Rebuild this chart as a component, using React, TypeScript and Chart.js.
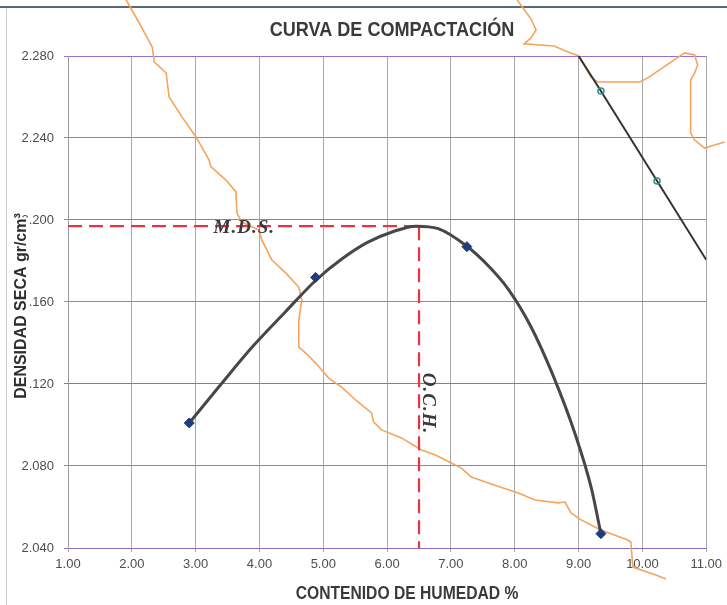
import React, { useEffect, useRef } from 'react';
import { Chart, registerables } from 'chart.js';

Chart.register(...registerables);

// ---- data ----
const xTicks = [1, 2, 3, 4, 5, 6, 7, 8, 9, 10, 11];
const yTicks = [2.04, 2.08, 2.12, 2.16, 2.2, 2.24, 2.28];

const muestraHumedad = [2.9, 4.88, 7.25, 9.35];
const muestraDensidad = [2.101, 2.172, 2.187, 2.047];

const curvaHumedad = [2.9, 3.4, 3.9, 4.4, 4.88, 5.3, 5.7, 6.1, 6.45, 6.8, 7.25, 7.6, 7.9, 8.25, 8.6, 8.95, 9.2, 9.35];
const curvaDensidad = [2.101, 2.12, 2.1385, 2.155, 2.1705, 2.1812, 2.1892, 2.1944, 2.197, 2.1958, 2.1872, 2.1772, 2.1662, 2.1482, 2.1242, 2.0952, 2.0692, 2.047];

const saturacionHumedad = [9.0, 9.35, 10.23, 11.0];
const saturacionDensidad = [2.28, 2.2629, 2.219, 2.1806];

const och = 6.5;
const mds = 2.197;

const contorno1X = [1.913, 2.116, 2.319, 2.35, 2.538, 2.584, 2.788, 3.006, 3.209, 3.241, 3.475, 3.631, 3.647, 3.725, 3.991, 4.038, 4.194, 4.413, 4.616, 4.663, 4.616, 4.616, 4.725, 4.881, 5.084, 5.288, 5.506, 5.756, 5.788, 5.913, 6.225, 6.538, 6.756, 7.006, 7.163, 7.319, 7.584, 8.053, 8.319, 8.678, 8.788, 8.881, 9.038, 9.35, 9.772, 9.819, 9.85, 10.21, 10.37];
const contorno1Y = [2.3073, 2.2961, 2.2844, 2.2771, 2.2717, 2.26, 2.2502, 2.2405, 2.2293, 2.2259, 2.2195, 2.2137, 2.2034, 2.199, 2.1951, 2.1902, 2.1805, 2.1741, 2.1673, 2.161, 2.1512, 2.138, 2.1351, 2.1302, 2.1229, 2.1185, 2.1122, 2.1059, 2.1015, 2.0976, 2.0937, 2.0878, 2.0854, 2.0815, 2.079, 2.0746, 2.0717, 2.0668, 2.0634, 2.062, 2.0624, 2.0571, 2.0537, 2.0488, 2.0439, 2.0429, 2.0307, 2.0268, 2.0249];

const contorno2X = [8.038, 8.256, 8.334, 8.256, 8.147, 8.616, 8.834, 9.006, 9.194, 9.303, 9.959, 10.084, 10.663, 10.819, 10.866, 10.819, 10.756, 10.756, 10.819, 10.975, 11.131, 11.288];
const contorno2Y = [2.3073, 2.298, 2.2927, 2.2888, 2.2859, 2.2849, 2.282, 2.28, 2.2698, 2.2673, 2.2673, 2.2693, 2.2815, 2.2805, 2.2756, 2.2717, 2.2683, 2.2424, 2.239, 2.2351, 2.2366, 2.238];

const titulo = 'CURVA DE COMPACTACIÓN';
const tituloX = 'CONTENIDO DE HUMEDAD %';
const tituloY = 'DENSIDAD SECA gr/cm³';
const etiquetaMDS = 'M.D.S.';
const etiquetaOCH = 'O.C.H.';

// ---- styles ----
const SANS = "'Liberation Sans', Arial, sans-serif";
const SERIF = "'Liberation Serif', 'DejaVu Serif', serif";
const yGridColors = ['#8c6cc8', '#b06ec0', '#7a74d2', '#4fae9a', '#a06ed0', '#5e98cc', '#9a70d2'];

const pts = (xs: number[], ys: number[]) => xs.map((x, i) => ({ x, y: ys[i] }));

function narrowText(ctx: any, text: string, x: number, y: number, sx: number, rot = 0, halo = false) {
  ctx.save();
  ctx.translate(x, y);
  if (rot) ctx.rotate(rot);
  ctx.scale(sx, 1);
  if (halo) {
    ctx.save();
    ctx.strokeStyle = '#ffffff';
    ctx.lineWidth = 4;
    ctx.strokeText(text, 0, 0);
    ctx.restore();
  }
  ctx.fillText(text, 0, 0);
  ctx.restore();
}

const decor = {
  id: 'decor',
  beforeDraw(chart: any) {
    const ctx = chart.ctx;
    ctx.save();
    ctx.fillStyle = '#ffffff';
    ctx.fillRect(0, 0, chart.width, chart.height);
    ctx.strokeStyle = '#56687e';
    ctx.lineWidth = 2;
    ctx.beginPath();
    ctx.moveTo(0, 7);
    ctx.lineTo(chart.width, 7);
    ctx.stroke();
    ctx.strokeStyle = '#cfcfcf';
    ctx.lineWidth = 1;
    ctx.beginPath();
    ctx.moveTo(6.5, 8);
    ctx.lineTo(6.5, chart.height);
    ctx.stroke();
    ctx.restore();
  },
  afterDraw(chart: any) {
    const { ctx, scales } = chart;
    const sx = scales.x;
    const sy = scales.y;
    ctx.save();
    ctx.textAlign = 'center';
    ctx.textBaseline = 'middle';
    // main title
    ctx.fillStyle = '#3a3a3a';
    ctx.font = `bold 21px ${SANS}`;
    narrowText(ctx, titulo, 392, 30, 0.86);
    // x title
    ctx.font = `bold 18px ${SANS}`;
    narrowText(ctx, tituloX, 407, 594, 0.87);
    // y title
    ctx.font = `bold 17px ${SANS}`;
    ctx.fillStyle = '#2e2e2e';
    narrowText(ctx, tituloY, 21, 306, 0.94, -Math.PI / 2, true);
    // M.D.S.
    ctx.fillStyle = '#3a3a3a';
    ctx.font = `italic bold 19px ${SERIF}`;
    ctx.textAlign = 'left';
    (ctx as any).letterSpacing = '1px';
    ctx.fillText(etiquetaMDS, sx.getPixelForValue(3.28), sy.getPixelForValue(mds) + 2);
    // O.C.H.
    ctx.textAlign = 'center';
    narrowText(ctx, etiquetaOCH, sx.getPixelForValue(och) + 9, sy.getPixelForValue(2.1105), 1, Math.PI / 2);
    (ctx as any).letterSpacing = '0px';
    ctx.restore();
  },
};

export default function App() {
  const ref = useRef<HTMLCanvasElement | null>(null);
  useEffect(() => {
    if (!ref.current) return;
    const chart = new Chart(ref.current, {
      type: 'scatter',
      data: {
        datasets: [
          {
            label: 'Muestras',
            data: pts(muestraHumedad, muestraDensidad),
            showLine: false,
            pointStyle: 'rectRot',
            pointRadius: 5,
            backgroundColor: '#1f3d7a',
            borderColor: '#1f3d7a',
            order: 1,
          },
          {
            label: 'Curva',
            data: pts(curvaHumedad, curvaDensidad),
            showLine: true,
            pointRadius: 0,
            borderColor: '#474747',
            borderWidth: 3,
            tension: 0.4,
            cubicInterpolationMode: 'monotone',
            order: 2,
          },
          {
            label: 'Saturación',
            data: pts(saturacionHumedad, saturacionDensidad),
            showLine: true,
            pointRadius: [0, 3, 3, 0],
            pointBackgroundColor: 'rgba(255,255,255,0)',
            pointBorderColor: '#2d8f8f',
            pointBorderWidth: 1.5,
            borderColor: '#333333',
            borderWidth: 2,
            tension: 0,
            order: 3,
          },
          {
            label: 'MDS',
            data: [{ x: 1, y: mds }, { x: och, y: mds }],
            showLine: true,
            pointRadius: 0,
            borderColor: '#ea3340',
            borderWidth: 2.2,
            borderDash: [14, 7],
            order: 4,
          },
          {
            label: 'OCH',
            data: [{ x: och, y: mds }, { x: och, y: 2.04 }],
            showLine: true,
            pointRadius: 0,
            borderColor: '#ea3340',
            borderWidth: 2.2,
            borderDash: [14, 7],
            order: 4,
          },
          {
            label: 'c1',
            data: pts(contorno1X, contorno1Y),
            showLine: true,
            pointRadius: 0,
            borderColor: '#f5a45c',
            borderWidth: 1.6,
            tension: 0,
            clip: false,
            order: 10,
          },
          {
            label: 'c2',
            data: pts(contorno2X, contorno2Y),
            showLine: true,
            pointRadius: 0,
            borderColor: '#f5a45c',
            borderWidth: 1.6,
            tension: 0,
            clip: false,
            order: 10,
          },
        ] as any,
      },
      options: {
        animation: false,
        responsive: false,
        devicePixelRatio: 1,
        layout: { padding: { left: 0, top: 56, right: 19, bottom: 27 } },
        plugins: {
          legend: { display: false },
          tooltip: { enabled: false },
          title: { display: false },
        },
        scales: {
          x: {
            type: 'linear',
            min: 1,
            max: 11,
            afterBuildTicks: (s: any) => {
              s.ticks = xTicks.map((v) => ({ value: v }));
            },
            afterFit: (s: any) => {
              s.height = 30;
            },
            grid: { color: '#a9a9a9', lineWidth: 1, tickLength: 4 },
            border: { color: '#8c6cc8', width: 1 },
            ticks: {
              color: '#4d4d4d',
              padding: 5,
              maxRotation: 0,
              font: { family: SANS, size: 13 },
              callback: (v: any) => Number(v).toFixed(2),
            },
          },
          y: {
            type: 'linear',
            min: 2.04,
            max: 2.28,
            afterBuildTicks: (s: any) => {
              s.ticks = yTicks.map((v) => ({ value: v }));
            },
            afterFit: (s: any) => {
              s.width = 68;
            },
            grid: {
              color: (c: any) => yGridColors[c.index] || '#8c6cc8',
              lineWidth: 1,
              tickLength: 4,
            },
            border: { color: '#9a9a9a', width: 1 },
            ticks: {
              color: '#4d4d4d',
              padding: 10,
              font: { family: SANS, size: 13 },
              callback: (v: any) => Number(v).toFixed(3),
            },
          },
        },
      },
      plugins: [decor],
    });
    return () => chart.destroy();
  }, []);
  return (
    <div style={{ position: 'fixed', left: 0, top: 0, width: 727, height: 605, background: '#fff' }}>
      <canvas ref={ref} width={727} height={605} />
    </div>
  );
}
